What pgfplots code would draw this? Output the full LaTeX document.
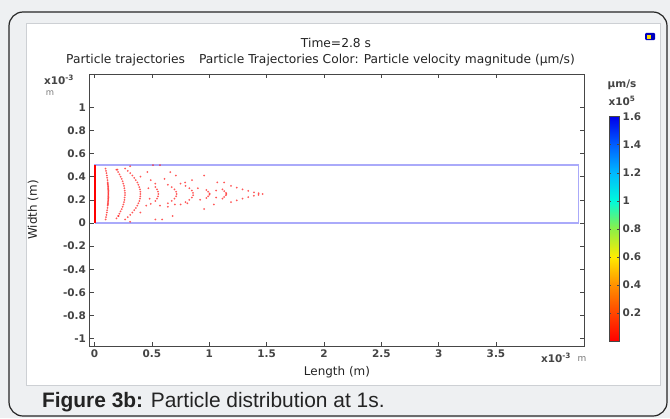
\documentclass[border=0pt]{standalone}
\usepackage{fontspec}
\setmainfont{DejaVu Sans}
\newfontfamily\capfont{Liberation Sans}
\usepackage{pgfplots}
\pgfplotsset{compat=1.18}
\definecolor{bggray}{RGB}{238,240,242}
\definecolor{panelline}{RGB}{205,208,212}
\definecolor{axgray}{RGB}{70,70,70}
\definecolor{txt}{RGB}{35,35,35}
\definecolor{lightt}{RGB}{120,120,120}
\definecolor{rectblue}{RGB}{170,170,250}
\definecolor{prtred}{RGB}{255,25,25}

\pgfplotstableread{
x y
0.096 0.03
0.100 0.05
0.104 0.07
0.107 0.09
0.110 0.11
0.113 0.13
0.115 0.15
0.117 0.17
0.118 0.19
0.119 0.21
0.120 0.23
0.120 0.25
0.120 0.27
0.119 0.29
0.118 0.31
0.117 0.33
0.115 0.35
0.113 0.37
0.110 0.39
0.107 0.41
0.104 0.43
0.100 0.45
0.096 0.47
0.116 0.16
0.118 0.18
0.119 0.20
0.120 0.22
0.120 0.24
0.120 0.26
0.120 0.28
0.119 0.30
0.118 0.32
0.116 0.34
0.191 0.04
0.205 0.06
0.217 0.08
0.227 0.10
0.237 0.12
0.245 0.14
0.251 0.16
0.257 0.18
0.261 0.20
0.263 0.22
0.265 0.24
0.265 0.26
0.263 0.28
0.261 0.30
0.257 0.32
0.251 0.34
0.245 0.36
0.237 0.38
0.227 0.40
0.217 0.42
0.205 0.44
0.191 0.46
0.267 0.03
0.290 0.05
0.311 0.07
0.330 0.09
0.346 0.11
0.360 0.13
0.373 0.15
0.382 0.17
0.390 0.19
0.396 0.21
0.399 0.23
0.400 0.25
0.399 0.27
0.396 0.29
0.390 0.31
0.382 0.33
0.373 0.35
0.360 0.37
0.346 0.39
0.330 0.41
0.311 0.43
0.290 0.45
0.267 0.47
0.530 0.31
0.545 0.29
0.553 0.27
0.556 0.25
0.553 0.23
0.545 0.21
0.530 0.19
0.639 0.17
0.673 0.19
0.697 0.21
0.711 0.23
0.716 0.25
0.711 0.27
0.697 0.29
0.673 0.31
0.639 0.33
0.750 0.16
0.793 0.18
0.826 0.20
0.848 0.22
0.859 0.24
0.859 0.26
0.848 0.28
0.826 0.30
0.793 0.32
0.750 0.34
0.975 0.285
0.990 0.270
1.003 0.255
1.003 0.245
0.990 0.230
0.975 0.215
1.115 0.290
1.130 0.275
1.145 0.260
1.150 0.250
1.145 0.240
1.130 0.225
1.115 0.210
1.190 0.320
1.240 0.305
1.290 0.290
1.340 0.277
1.390 0.265
1.430 0.257
1.465 0.250
1.190 0.180
1.240 0.195
1.290 0.210
1.340 0.223
1.390 0.235
1.430 0.243
0.200 0.46
0.310 0.49
0.400 0.40
0.460 0.44
0.510 0.50
0.570 0.50
0.490 0.37
0.530 0.34
0.610 0.38
0.660 0.44
0.710 0.41
0.790 0.35
0.850 0.37
0.955 0.41
1.070 0.35
1.130 0.35
0.400 0.09
0.450 0.15
0.490 0.165
0.570 0.15
0.640 0.14
0.700 0.16
0.530 0.03
0.590 0.03
0.680 0.06
0.310 0.01
0.210 0.06
0.810 0.17
0.955 0.12
1.040 0.16
0.900 0.30
0.920 0.20
1.060 0.28
1.060 0.22
0.470 0.30
0.480 0.21
}\particles

\begin{document}
\begin{tikzpicture}[x=1bp,y=1bp]
\useasboundingbox (0,0) rectangle (670,418);
\clip (0,0) rectangle (670,418);
\fill[bggray] (0,0) rectangle (670,418);
\draw[black!85, line width=1.2bp, rounded corners=14bp] (9,2) rectangle (667,406);
\fill[white] (26,33) rectangle (660,395);
\draw[panelline, line width=0.6bp] (26,33) rectangle (660,395);
% icon
\fill[blue!75!black, rounded corners=1bp] (645,378) rectangle (655,385);
\fill[yellow!80!orange] (647,379.5) rectangle (650.5,383.5);

\begin{axis}[
  at={(89.5bp,72bp)}, anchor=south west,
  scale only axis, width=494.8bp, height=272bp,
  xmin=-0.044, xmax=4.27, ymin=-1.063, ymax=1.287,
  xtick={0,0.5,1,1.5,2,2.5,3,3.5},
  xticklabels={0,0.5,1,1.5,2,2.5,3,3.5},
  ytick={-1,-0.8,-0.6,-0.4,-0.2,0,0.2,0.4,0.6,0.8,1},
  yticklabels={-1,-0.8,-0.6,-0.4,-0.2,0,0.2,0.4,0.6,0.8,1},
  tick align=inside, major tick length=4bp,
  tick style={axgray, line width=0.6bp},
  axis line style={axgray, line width=0.8bp},
  ticklabel style={font=\fontsize{10.5}{12}\selectfont\bfseries, text=txt!85},
  point meta min=0, point meta max=1.6,
  colormap={comsol}{rgb255=(255,0,0) rgb255=(255,70,0) rgb255=(255,145,0) rgb255=(255,235,0) rgb255=(140,240,70) rgb255=(0,250,220) rgb255=(0,185,255) rgb255=(0,95,255) rgb255=(0,0,235)},
  colorbar,
  colorbar style={
    at={(parent axis.north east)}, anchor=north west,
    xshift=16.4bp, yshift=-42.7bp,
    width=10bp, height=224.3bp,
    ytick={0.2,0.4,0.6,0.8,1,1.2,1.4,1.6},
    yticklabels={0.2,0.4,0.6,0.8,1,1.2,1.4,1.6},
    tick align=inside, major tick length=2bp,
    tick style={axgray, line width=0.5bp},
    axis line style={axgray, line width=0.5bp},
    yticklabel style={font=\fontsize{10.5}{12}\selectfont\bfseries, text=txt!85},
  },
]
\addplot[rectblue, line width=1.6bp] coordinates {(0,0) (4.22,0) (4.22,0.5) (0,0.5) (0,0)};
\addplot[red, line width=2bp] coordinates {(0,0) (0,0.5)};
\addplot[only marks, color=prtred, mark=*, mark size=1bp, mark options={fill=prtred, draw=prtred, draw opacity=0, fill opacity=0.72}] table {\particles};
\end{axis}

\node[font=\fontsize{12.3}{14}\selectfont, text=txt] at (336,375) {Time=2.8 s};
\node[font=\fontsize{12.3}{14}\selectfont, text=txt] at (320.5,358) {Particle trajectories\hspace{14bp}Particle Trajectories Color: Particle velocity magnitude (µm/s)};
\node[font=\fontsize{12}{14}\selectfont, text=txt] at (337,46) {Length (m)};
\node[font=\fontsize{12}{14}\selectfont, text=txt, rotate=90] at (33,208) {Width (m)};
\node[font=\fontsize{10.5}{12}\selectfont\bfseries, text=txt!85] at (59,338) {x10\textsuperscript{-3}};
\node[font=\fontsize{8.5}{10}\selectfont, text=lightt] at (50,325) {m};
\node[font=\fontsize{10.5}{12}\selectfont\bfseries, text=txt!85] at (556,60) {x10\textsuperscript{-3}};
\node[font=\fontsize{9}{10}\selectfont, text=lightt] at (582,59.5) {m};
\node[font=\fontsize{10.5}{12}\selectfont\bfseries, text=txt!85] at (622,333) {µm/s};
\node[font=\fontsize{10.5}{12}\selectfont\bfseries, text=txt!85] at (622,317) {x10\textsuperscript{5}};
\node[font=\capfont\fontsize{21}{24}\selectfont, text=txt, anchor=west] at (38.5,16) {\textbf{Figure 3b:} Particle distribution at 1s.};
\end{tikzpicture}
\end{document}
